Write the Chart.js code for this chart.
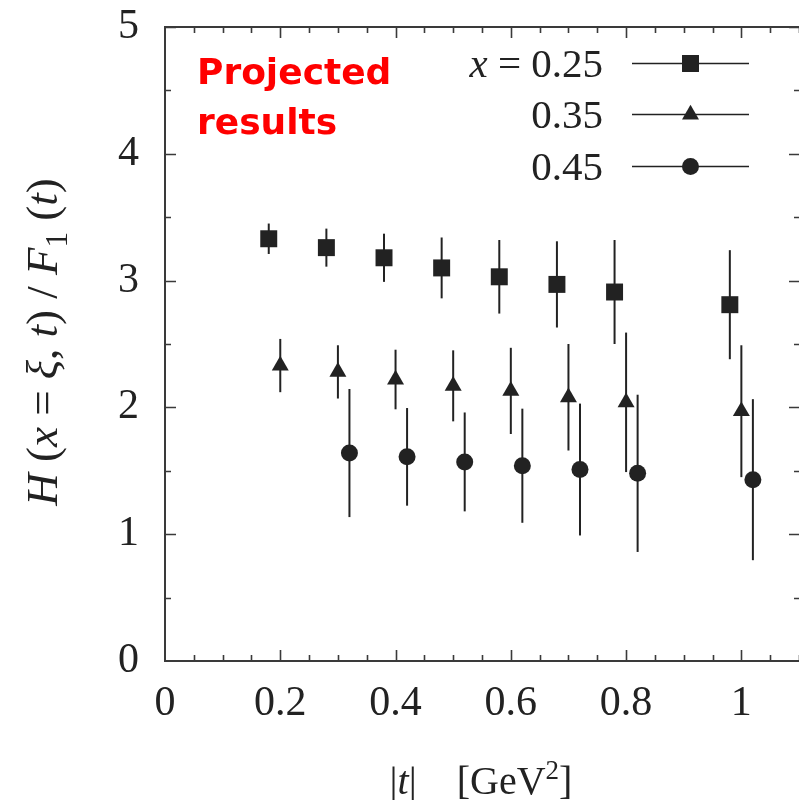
<!DOCTYPE html>
<html>
<head>
<meta charset="utf-8">
<script src="https://cdn.jsdelivr.net/npm/chart.js@4.4.1/dist/chart.umd.min.js"></script>
<style>
  html, body { margin: 0; padding: 0; background: #ffffff; }
  canvas { display: block; }
</style>
</head>
<body>
<canvas id="chart" width="799" height="800"></canvas>
<script>
// |t| values (GeV^2) and H/F1 ratios with their uncertainties, one set per x
const seriesNames = ['0.25', '0.35', '0.45'];

const tX025 = [0.18, 0.28, 0.38, 0.48, 0.58, 0.68, 0.78, 0.98];
const hX025 = [3.33, 3.26, 3.18, 3.10, 3.03, 2.97, 2.91, 2.81];
const eX025 = [0.12, 0.15, 0.19, 0.24, 0.29, 0.34, 0.41, 0.43];

const tX035 = [0.20, 0.30, 0.40, 0.50, 0.60, 0.70, 0.80, 1.00];
const hX035 = [2.33, 2.28, 2.22, 2.17, 2.13, 2.08, 2.04, 1.97];
const eX035 = [0.21, 0.21, 0.235, 0.28, 0.34, 0.42, 0.55, 0.52];

const tX045 = [0.32, 0.42, 0.52, 0.62, 0.72, 0.82, 1.02];
const hX045 = [1.64, 1.61, 1.57, 1.54, 1.51, 1.48, 1.43];
const eX045 = [0.505, 0.385, 0.39, 0.45, 0.52, 0.62, 0.635];

const xTickValues = [0, 0.2, 0.4, 0.6, 0.8, 1];
const yTickValues = [0, 1, 2, 3, 4, 5];

const INK = '#222222';
const SERIF = '"Liberation Serif", "DejaVu Serif", serif';

const markerStyles = [
  { pointStyle: 'rect', radius: 12 },
  { pointStyle: 'triangle', radius: 9.8 },
  { pointStyle: 'circle', radius: 8.5 }
];

const seriesData = [
  { t: tX025, h: hX025, e: eX025 },
  { t: tX035, h: hX035, e: eX035 },
  { t: tX045, h: hX045, e: eX045 }
];

const datasets = seriesData.map((s, i) => ({
  label: seriesNames[i],
  data: s.t.map((t, k) => ({ x: t, y: s.h[k] })),
  errors: s.e,
  showLine: false,
  pointStyle: markerStyles[i].pointStyle,
  pointRadius: markerStyles[i].radius,
  pointBackgroundColor: INK,
  pointBorderColor: INK,
  pointBorderWidth: 0
}));

// ---- mixed italic / upright text ----
function partFont(p, size) {
  if (p[1] === 'i') return `italic ${size}px ${SERIF}`;
  if (p[1] === 'sub' || p[1] === 'sup') return `${Math.round(size * 0.68)}px ${SERIF}`;
  return `${size}px ${SERIF}`;
}
function richWidth(ctx, parts, size) {
  let w = 0;
  for (const p of parts) { ctx.font = partFont(p, size); w += ctx.measureText(p[0]).width; }
  return w;
}
function drawRich(ctx, parts, x, y, size, align) {
  const w = richWidth(ctx, parts, size);
  let cx = align === 'center' ? x - w / 2 : align === 'right' ? x - w : x;
  ctx.textBaseline = 'alphabetic';
  ctx.textAlign = 'left';
  for (const p of parts) {
    ctx.font = partFont(p, size);
    const dy = p[1] === 'sub' ? size * 0.22 : p[1] === 'sup' ? -size * 0.38 : 0;
    ctx.fillText(p[0], cx, y + dy);
    cx += ctx.measureText(p[0]).width;
  }
}

// marker shapes in the same geometry Chart.js uses for points
function drawMarker(ctx, style, r, x, y) {
  ctx.beginPath();
  if (style === 'rect') {
    const s = Math.SQRT1_2 * r;
    ctx.rect(x - s, y - s, 2 * s, 2 * s);
  } else if (style === 'triangle') {
    let a = 0;
    ctx.moveTo(x + Math.sin(a) * r, y - Math.cos(a) * r);
    a += 2 * Math.PI / 3;
    ctx.lineTo(x + Math.sin(a) * r, y - Math.cos(a) * r);
    a += 2 * Math.PI / 3;
    ctx.lineTo(x + Math.sin(a) * r, y - Math.cos(a) * r);
    ctx.closePath();
  } else {
    ctx.arc(x, y, r, 0, Math.PI * 2);
  }
  ctx.fill();
}

// vertical error bars drawn through the chart's scales
const errorBars = {
  id: 'errorBars',
  beforeDatasetsDraw(chart) {
    const { ctx, scales: { x, y } } = chart;
    ctx.save();
    ctx.strokeStyle = INK;
    ctx.lineWidth = 2;
    chart.data.datasets.forEach(ds => {
      ds.data.forEach((pt, k) => {
        const px = x.getPixelForValue(pt.x);
        ctx.beginPath();
        ctx.moveTo(px, y.getPixelForValue(pt.y + ds.errors[k]));
        ctx.lineTo(px, y.getPixelForValue(pt.y - ds.errors[k]));
        ctx.stroke();
      });
    });
    ctx.restore();
  }
};

// frame with inward ticks on all four sides
const frame = {
  id: 'frame',
  afterDatasetsDraw(chart) {
    const { ctx, chartArea: a, scales: { x, y } } = chart;
    ctx.save();
    ctx.strokeStyle = '#3a3a3a';
    ctx.lineWidth = 1.6;
    ctx.beginPath();
    for (let i = 1; i * 0.05 <= x.max + 1e-9; i++) {
      const px = Math.round(x.getPixelForValue(i * 0.05)) + 0.5;
      const len = i % 4 === 0 ? 11 : 6;
      ctx.moveTo(px, a.bottom); ctx.lineTo(px, a.bottom - len);
      ctx.moveTo(px, a.top); ctx.lineTo(px, a.top + len);
    }
    for (let i = 1; i * 0.5 <= y.max + 1e-9; i++) {
      const py = Math.round(y.getPixelForValue(i * 0.5)) + 0.5;
      const len = i % 2 === 0 ? 11 : 6;
      ctx.moveTo(a.left, py); ctx.lineTo(a.left + len, py);
      ctx.moveTo(a.right + 1, py); ctx.lineTo(a.right + 1 - len, py);
    }
    ctx.stroke();
    ctx.lineWidth = 2;
    ctx.beginPath();
    ctx.moveTo(a.right + 2, a.top);
    ctx.lineTo(a.left, a.top);
    ctx.lineTo(a.left, a.bottom);
    ctx.lineTo(a.right + 2, a.bottom);
    ctx.stroke();
    ctx.restore();
  }
};

// axis titles, key and annotation
const annotations = {
  id: 'annotations',
  afterDraw(chart) {
    const { ctx } = chart;
    ctx.save();
    ctx.fillStyle = INK;

    // y title, rotated
    ctx.save();
    ctx.translate(57, 342);
    ctx.rotate(-Math.PI / 2);
    drawRich(ctx, [['H', 'i'], [' (', 'r'], ['x', 'i'], [' = ', 'r'], ['ξ', 'i'], [', ', 'r'],
      ['t', 'i'], [') / ', 'r'], ['F', 'i'], ['1', 'sub'], [' (', 'r'], ['t', 'i'], [')', 'r']],
      0, 0, 45, 'center');
    ctx.restore();

    // x title
    drawRich(ctx, [['|', 'r'], ['t', 'i'], ['|    [GeV', 'r'], ['2', 'sup'], [']', 'r']],
      481, 794, 40, 'center');

    // key
    const rows = [63, 114, 166];
    rows.forEach((ry, i) => {
      const parts = i === 0 ? [['x', 'i'], [' = ', 'r'], [seriesNames[i], 'r']] : [[seriesNames[i], 'r']];
      ctx.fillStyle = INK;
      drawRich(ctx, parts, 603, ry + 14, 41, 'right');
      ctx.strokeStyle = INK;
      ctx.lineWidth = 1.5;
      ctx.beginPath();
      ctx.moveTo(632, ry + 0.5);
      ctx.lineTo(749, ry + 0.5);
      ctx.stroke();
      drawMarker(ctx, markerStyles[i].pointStyle, markerStyles[i].radius, 690.5, ry + 0.5);
    });

    // annotation
    ctx.fillStyle = '#ff0000';
    ctx.font = `bold 36px "DejaVu Sans", sans-serif`;
    ctx.textAlign = 'left';
    ctx.textBaseline = 'alphabetic';
    ctx.fillText('Projected', 197, 84);
    ctx.fillText('results', 197, 134);
    ctx.restore();
  }
};

// fixed plot box: the axes keep their reserved size and add no edge padding
function pinX(scale) {
  scale.height = 139;
  scale.paddingLeft = scale.paddingRight = scale.paddingTop = scale.paddingBottom = 0;
}
function pinY(scale) {
  scale.width = 165;
  scale.paddingLeft = scale.paddingRight = scale.paddingTop = scale.paddingBottom = 0;
}

new Chart(document.getElementById('chart'), {
  type: 'scatter',
  data: { datasets },
  options: {
    responsive: false,
    animation: false,
    events: [],
    layout: { autoPadding: false, padding: { top: 27, right: 0, bottom: 0, left: 0 } },
    plugins: { legend: { display: false }, tooltip: { enabled: false } },
    scales: {
      x: {
        type: 'linear',
        min: 0,
        max: 1.1,
        grid: { display: false, drawTicks: false },
        border: { display: false },
        afterFit: pinX,
        afterBuildTicks(scale) { scale.ticks = xTickValues.map(v => ({ value: v })); },
        ticks: {
          autoSkip: false,
          maxRotation: 0,
          padding: 18,
          color: INK,
          font: { family: SERIF, size: 42 },
          callback: v => String(v)
        }
      },
      y: {
        type: 'linear',
        min: 0,
        max: 5,
        grid: { display: false, drawTicks: false },
        border: { display: false },
        afterFit: pinY,
        afterBuildTicks(scale) { scale.ticks = yTickValues.map(v => ({ value: v })); },
        ticks: {
          autoSkip: false,
          padding: 26,
          color: INK,
          font: { family: SERIF, size: 42 },
          callback: v => String(v)
        }
      }
    }
  },
  plugins: [errorBars, frame, annotations]
});
</script>
</body>
</html>
